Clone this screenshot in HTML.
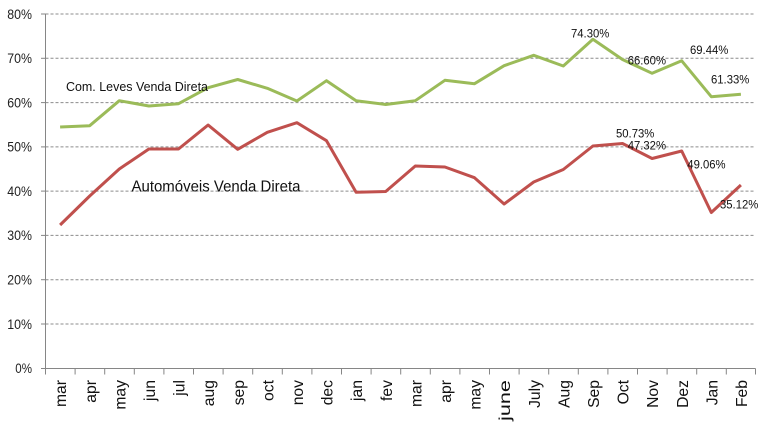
<!DOCTYPE html>
<html><head><meta charset="utf-8"><style>
html,body{margin:0;padding:0;background:#fff;}
svg{display:block;font-family:"Liberation Sans",sans-serif;}
</style></head><body>
<svg width="768" height="422" viewBox="0 0 768 422" xmlns="http://www.w3.org/2000/svg">
<rect width="768" height="422" fill="#fff"/>
<g stroke="#8c8c8c" stroke-width="1" stroke-dasharray="3,2">
<line x1="45.5" y1="14" x2="755" y2="14"/>
<line x1="45.5" y1="58.3" x2="755" y2="58.3"/>
<line x1="45.5" y1="102.6" x2="755" y2="102.6"/>
<line x1="45.5" y1="146.9" x2="755" y2="146.9"/>
<line x1="45.5" y1="191.1" x2="755" y2="191.1"/>
<line x1="45.5" y1="235.4" x2="755" y2="235.4"/>
<line x1="45.5" y1="279.7" x2="755" y2="279.7"/>
<line x1="45.5" y1="324" x2="755" y2="324"/>
</g>
<g stroke="#868686" stroke-width="1">
<line x1="45.5" y1="14" x2="45.5" y2="368.5"/>
<line x1="45.5" y1="368.5" x2="755.5" y2="368.5"/>
<line x1="41" y1="14" x2="45.5" y2="14"/>
<line x1="41" y1="58.3" x2="45.5" y2="58.3"/>
<line x1="41" y1="102.6" x2="45.5" y2="102.6"/>
<line x1="41" y1="146.9" x2="45.5" y2="146.9"/>
<line x1="41" y1="191.1" x2="45.5" y2="191.1"/>
<line x1="41" y1="235.4" x2="45.5" y2="235.4"/>
<line x1="41" y1="279.7" x2="45.5" y2="279.7"/>
<line x1="41" y1="324" x2="45.5" y2="324"/>
<line x1="41" y1="368.5" x2="45.5" y2="368.5"/>
<path d="M45.5 368.5v6M75.1 368.5v6M104.7 368.5v6M134.3 368.5v6M163.9 368.5v6M193.5 368.5v6M223.1 368.5v6M252.7 368.5v6M282.3 368.5v6M311.9 368.5v6M341.5 368.5v6M371.1 368.5v6M400.7 368.5v6M430.3 368.5v6M459.9 368.5v6M489.5 368.5v6M519.1 368.5v6M548.7 368.5v6M578.3 368.5v6M607.9 368.5v6M637.5 368.5v6M667.1 368.5v6M696.7 368.5v6M726.3 368.5v6M755.5 368.5v6"/>
</g>
<g font-size="13.5" fill="#222" text-anchor="end">
<text x="32" y="18.8" textLength="24.7" lengthAdjust="spacingAndGlyphs">80%</text>
<text x="32" y="63.1" textLength="24.7" lengthAdjust="spacingAndGlyphs">70%</text>
<text x="32" y="107.4" textLength="24.7" lengthAdjust="spacingAndGlyphs">60%</text>
<text x="32" y="151.7" textLength="24.7" lengthAdjust="spacingAndGlyphs">50%</text>
<text x="32" y="195.9" textLength="24.7" lengthAdjust="spacingAndGlyphs">40%</text>
<text x="32" y="240.2" textLength="24.7" lengthAdjust="spacingAndGlyphs">30%</text>
<text x="32" y="284.5" textLength="24.7" lengthAdjust="spacingAndGlyphs">20%</text>
<text x="32" y="328.8" textLength="24.7" lengthAdjust="spacingAndGlyphs">10%</text>
<text x="32" y="373.1" textLength="16.7" lengthAdjust="spacingAndGlyphs">0%</text>
</g>
<polyline fill="none" stroke="#9BBB59" stroke-width="3" stroke-linejoin="round" stroke-linecap="butt" points="60.1,127 89.7,125.7 119.3,100.7 148.9,106 178.5,103.7 208.1,87.7 237.7,79.5 267.3,88.3 296.9,101 326.5,80.7 356.1,100.7 385.7,104.5 415.3,100.7 444.9,80.3 474.5,83.7 504.1,65.7 533.7,55.3 563.3,66 592.9,39.3 622.5,59.5 652.1,73.3 681.7,60.8 711.3,96.7 740.9,94.3"/>
<polyline fill="none" stroke="#C0504D" stroke-width="3" stroke-linejoin="round" stroke-linecap="butt" points="60.1,225 89.7,196 119.3,169 148.9,149 178.5,149 208.1,125 237.7,149.3 267.3,132.3 296.9,122.7 326.5,140.7 356.1,192.3 385.7,191.5 415.3,166 444.9,167 474.5,177.7 504.1,204 533.7,182 563.3,169.5 592.9,146 622.5,143.5 652.1,158.5 681.7,151 711.3,212.5 740.9,185"/>
<text x="66" y="91" font-size="13.3" fill="#111" textLength="142" lengthAdjust="spacingAndGlyphs">Com. Leves Venda Direta</text>
<text x="131.5" y="191.7" font-size="15.8" fill="#111" textLength="169" lengthAdjust="spacingAndGlyphs">Automóveis Venda Direta</text>
<g font-size="12.2" fill="#111">
<text x="571" y="37.5" textLength="38.3" lengthAdjust="spacingAndGlyphs">74.30%</text>
<text x="627.7" y="64.3" textLength="38.3" lengthAdjust="spacingAndGlyphs">66.60%</text>
<text x="690" y="54" textLength="38.3" lengthAdjust="spacingAndGlyphs">69.44%</text>
<text x="711" y="83.3" textLength="38.3" lengthAdjust="spacingAndGlyphs">61.33%</text>
<text x="616" y="137.7" textLength="38.3" lengthAdjust="spacingAndGlyphs">50.73%</text>
<text x="627.7" y="149.3" textLength="38.3" lengthAdjust="spacingAndGlyphs">47.32%</text>
<text x="687.3" y="168.3" textLength="38.3" lengthAdjust="spacingAndGlyphs">49.06%</text>
<text x="720" y="208.3" textLength="38.3" lengthAdjust="spacingAndGlyphs">35.12%</text>
</g>
<g font-size="15.7" fill="#111" text-anchor="end">
<text transform="translate(66.2,380) rotate(-90)">mar</text>
<text transform="translate(95.8,380) rotate(-90)">apr</text>
<text transform="translate(125.4,380) rotate(-90)">may</text>
<text transform="translate(155,380) rotate(-90)">jun</text>
<text transform="translate(184.6,380) rotate(-90)">jul</text>
<text transform="translate(214.2,380) rotate(-90)">aug</text>
<text transform="translate(243.8,380) rotate(-90)">sep</text>
<text transform="translate(273.4,380) rotate(-90)">oct</text>
<text transform="translate(303,380) rotate(-90)">nov</text>
<text transform="translate(332.6,380) rotate(-90)">dec</text>
<text transform="translate(362.2,380) rotate(-90)">jan</text>
<text transform="translate(391.8,380) rotate(-90)">fev</text>
<text transform="translate(421.4,380) rotate(-90)">mar</text>
<text transform="translate(451,380) rotate(-90)">apr</text>
<text transform="translate(480.6,380) rotate(-90)">may</text>
<text transform="translate(510.2,380) rotate(-90)" textLength="41" lengthAdjust="spacingAndGlyphs">june</text>
<text transform="translate(539.8,380) rotate(-90)">July</text>
<text transform="translate(569.4,380) rotate(-90)">Aug</text>
<text transform="translate(599,380) rotate(-90)">Sep</text>
<text transform="translate(628.6,380) rotate(-90)">Oct</text>
<text transform="translate(658.2,380) rotate(-90)">Nov</text>
<text transform="translate(687.8,380) rotate(-90)">Dez</text>
<text transform="translate(717.4,380) rotate(-90)">Jan</text>
<text transform="translate(747,380) rotate(-90)">Feb</text>
</g>
</svg>
</body></html>
